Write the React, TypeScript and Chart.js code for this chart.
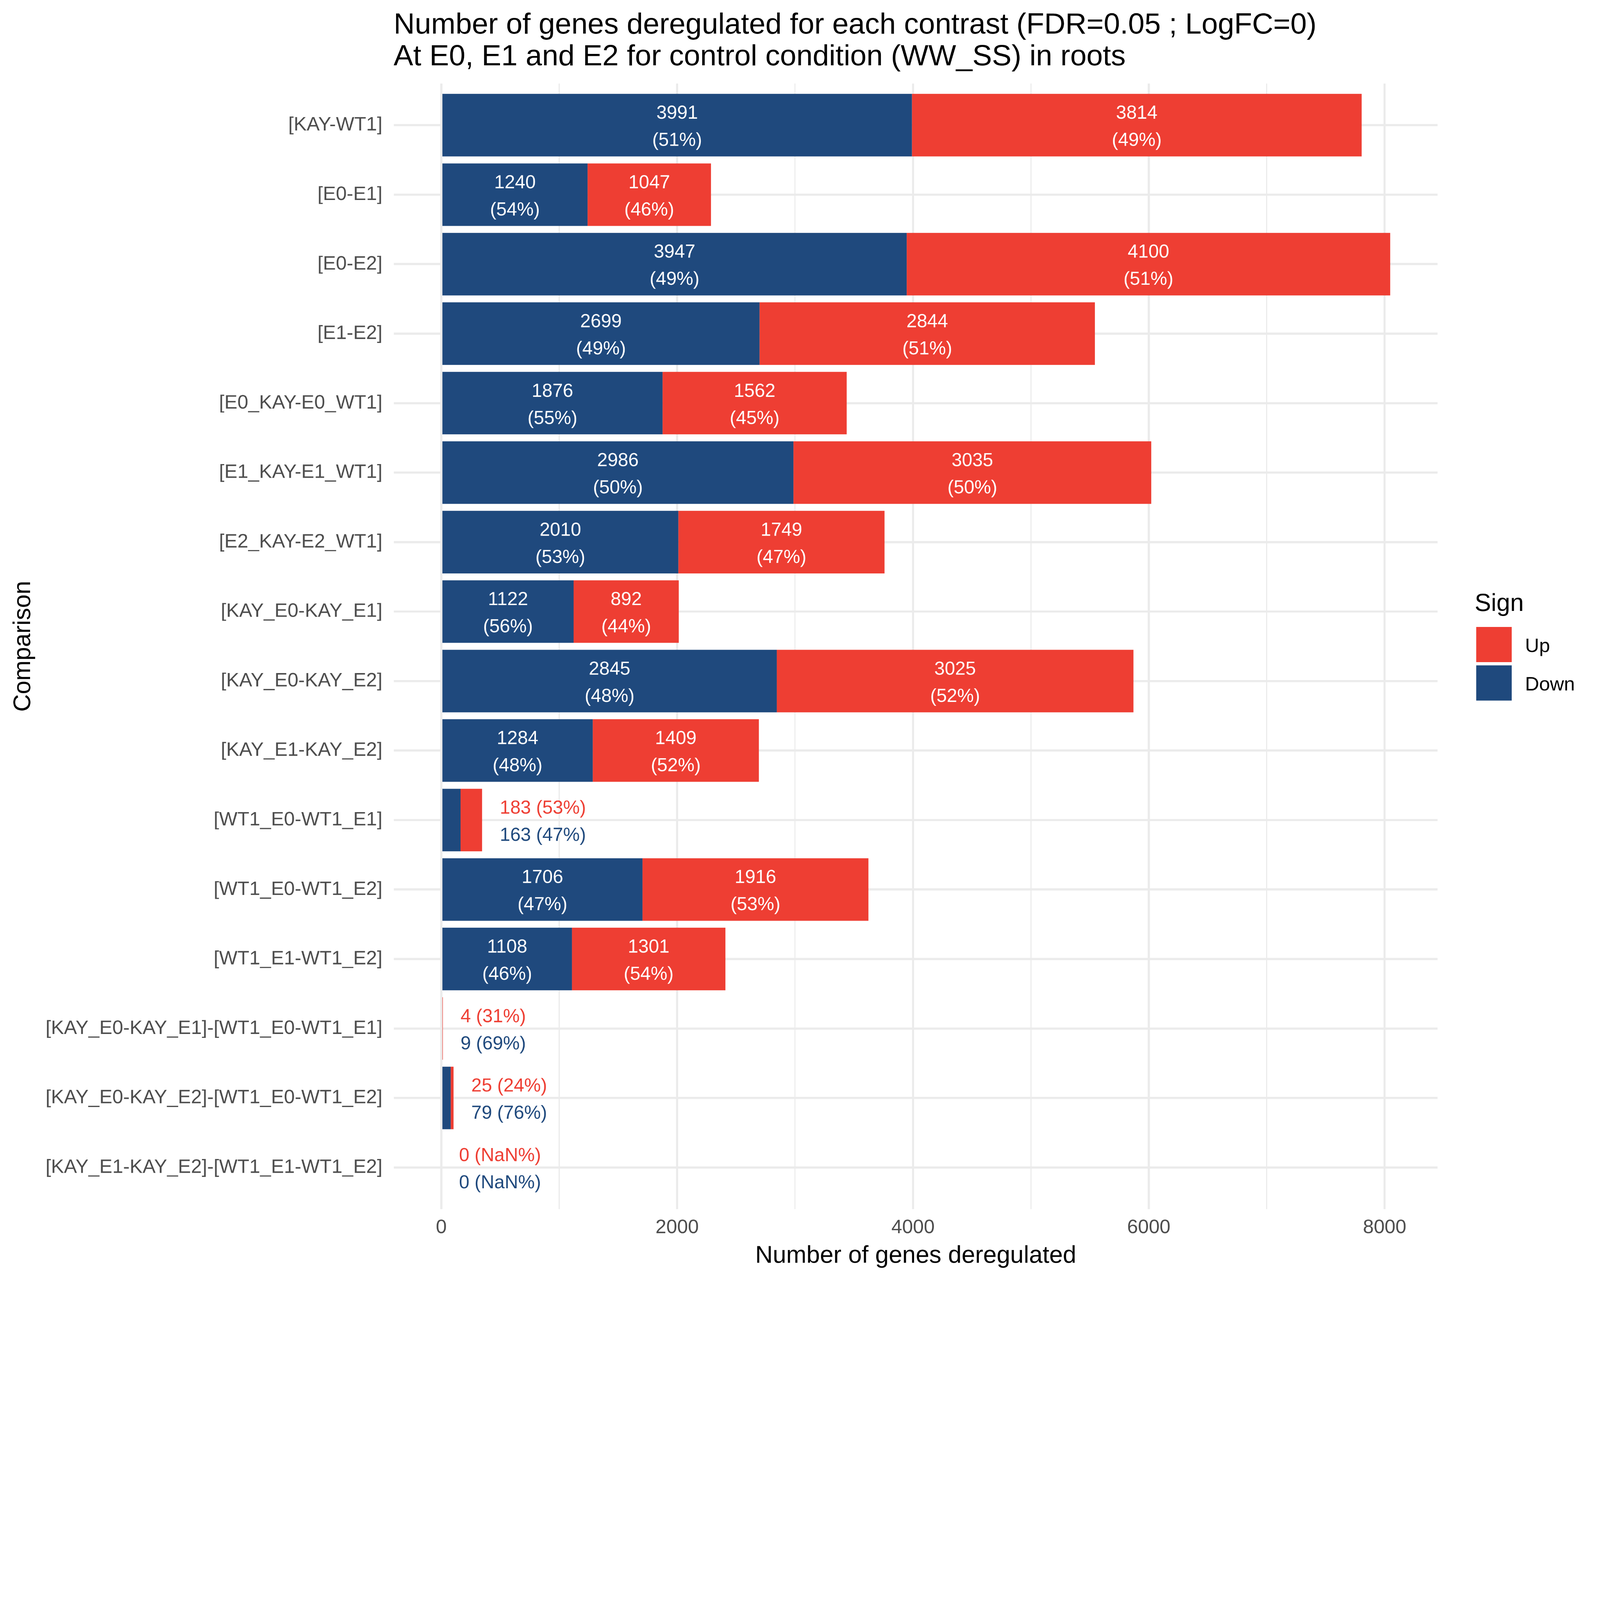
import { useEffect, useRef, useState } from "react";
import { Chart, registerables, type ChartConfiguration, type Plugin } from "chart.js";

Chart.register(...registerables);

const categories = [
  "[KAY-WT1]",
  "[E0-E1]",
  "[E0-E2]",
  "[E1-E2]",
  "[E0_KAY-E0_WT1]",
  "[E1_KAY-E1_WT1]",
  "[E2_KAY-E2_WT1]",
  "[KAY_E0-KAY_E1]",
  "[KAY_E0-KAY_E2]",
  "[KAY_E1-KAY_E2]",
  "[WT1_E0-WT1_E1]",
  "[WT1_E0-WT1_E2]",
  "[WT1_E1-WT1_E2]",
  "[KAY_E0-KAY_E1]-[WT1_E0-WT1_E1]",
  "[KAY_E0-KAY_E2]-[WT1_E0-WT1_E2]",
  "[KAY_E1-KAY_E2]-[WT1_E1-WT1_E2]",
];
const downCounts = [3991, 1240, 3947, 2699, 1876, 2986, 2010, 1122, 2845, 1284, 163, 1706, 1108, 9, 79, 0];
const upCounts = [3814, 1047, 4100, 2844, 1562, 3035, 1749, 892, 3025, 1409, 183, 1916, 1301, 4, 25, 0];
const xMajorTicks = [0, 2000, 4000, 6000, 8000];
const xMinorTicks = [1000, 3000, 5000, 7000];

const TITLE = [
  "Number of genes deregulated for each contrast (FDR=0.05 ; LogFC=0)",
  "At E0, E1 and E2 for control condition (WW_SS) in roots",
];
const X_TITLE = "Number of genes deregulated";
const Y_TITLE = "Comparison";
const LEGEND_TITLE = "Sign";

const BLUE = "#1F497D";
const RED = "#EE3E33";
const GRID = "#EBEBEB";
const FONT = "'Liberation Sans', Arial, Helvetica, sans-serif";

// drawing size of the chart; the canvas is scaled down by CSS to fit the window
const W = 6000;
const H = 4800;

const totals = downCounts.map((d, i) => d + upCounts[i]);
const maxTotal = Math.max(...totals);

function pct(v: number, total: number) {
  return total === 0 ? "NaN%" : `${Math.round((v / total) * 100)}%`;
}

const labelsPlugin: Plugin<"bar"> = {
  id: "barLabels",
  afterDatasetsDraw(chart) {
    const ctx = chart.ctx;
    const xScale = chart.scales.x;
    const downMeta = chart.getDatasetMeta(0);
    const upMeta = chart.getDatasetMeta(1);
    ctx.save();
    ctx.font = `70px ${FONT}`;
    ctx.textBaseline = "alphabetic";
    categories.forEach((_, i) => {
      const total = totals[i];
      const down = downMeta.data[i] as any;
      const up = upMeta.data[i] as any;
      const cy = down.y;
      if (total >= 500) {
        ctx.fillStyle = "#FFFFFF";
        ctx.textAlign = "center";
        for (const [el, v] of [
          [down, downCounts[i]],
          [up, upCounts[i]],
        ] as const) {
          const cx = (el.x + el.base) / 2;
          ctx.fillText(String(v), cx, cy - 24);
          ctx.fillText(`(${pct(v, total)})`, cx, cy + 78);
        }
      } else {
        // small bars: labels go to the right of the bar
        const x = xScale.getPixelForValue(total + 150);
        ctx.textAlign = "left";
        ctx.fillStyle = RED;
        ctx.fillText(`${upCounts[i]} (${pct(upCounts[i], total)})`, x, cy - 24);
        ctx.fillStyle = BLUE;
        ctx.fillText(`${downCounts[i]} (${pct(downCounts[i], total)})`, x, cy + 78);
      }
    });
    ctx.restore();
  },
};

const decorPlugin: Plugin<"bar"> = {
  id: "decor",
  afterDraw(chart) {
    const ctx = chart.ctx;
    const area = chart.chartArea;
    ctx.save();
    ctx.fillStyle = "#000000";
    ctx.textBaseline = "alphabetic";

    // title
    ctx.font = `110px ${FONT}`;
    ctx.textAlign = "left";
    ctx.fillText(TITLE[0], area.left - 1, 126);
    ctx.fillText(TITLE[1], area.left - 1, 245);

    // axis titles
    ctx.font = `91px ${FONT}`;
    ctx.textAlign = "center";
    ctx.fillText(X_TITLE, (area.left + area.right) / 2, 4735);
    ctx.save();
    ctx.translate(113, (area.top + area.bottom) / 2);
    ctx.rotate(-Math.PI / 2);
    ctx.fillText(Y_TITLE, 0, 0);
    ctx.restore();

    // legend
    ctx.textAlign = "left";
    ctx.font = `92px ${FONT}`;
    ctx.fillText(LEGEND_TITLE, 5530, 2291);
    const keys = [
      { label: "Up", color: RED, top: 2351 },
      { label: "Down", color: BLUE, top: 2495 },
    ];
    ctx.font = `73px ${FONT}`;
    for (const k of keys) {
      ctx.fillStyle = k.color;
      ctx.fillRect(5536, k.top, 133, 132);
      ctx.fillStyle = "#000000";
      ctx.fillText(k.label, 5719, k.top + 94);
    }
    ctx.restore();
  },
};

function GenesChart({ cssWidth }: { cssWidth: number }) {
  const canvasRef = useRef<HTMLCanvasElement | null>(null);
  const chartRef = useRef<Chart<"bar"> | null>(null);

  useEffect(() => {
    const canvas = canvasRef.current;
    if (!canvas) {
      return;
    }
    chartRef.current?.destroy();
    Chart.defaults.font.family = FONT;

    const config: ChartConfiguration<"bar"> = {
      type: "bar",
      data: {
        datasets: [
          {
            label: "Down",
            data: downCounts.map((v, i) => ({ x: v, y: i })) as any,
            backgroundColor: BLUE,
            barPercentage: 0.9,
            categoryPercentage: 1,
          },
          {
            label: "Up",
            data: upCounts.map((v, i) => ({ x: v, y: i })) as any,
            backgroundColor: RED,
            barPercentage: 0.9,
            categoryPercentage: 1,
          },
        ],
      },
      options: {
        indexAxis: "y",
        responsive: false,
        animation: false,
        devicePixelRatio: 1,
        layout: {
          padding: { left: 0, right: 609, top: 313, bottom: 0 },
        },
        plugins: {
          legend: { display: false },
          tooltip: { enabled: false },
        },
        scales: {
          x: {
            type: "linear",
            stacked: true,
            offset: false,
            min: -0.05 * maxTotal,
            max: 1.05 * maxTotal,
            afterBuildTicks(scale) {
              scale.ticks = [...xMajorTicks, ...xMinorTicks]
                .sort((a, b) => a - b)
                .map((value) => ({ value }));
            },
            afterFit(scale) {
              scale.height = 266;
            },
            ticks: {
              autoSkip: false,
              maxRotation: 0,
              minRotation: 0,
              padding: 26,
              color: "#4D4D4D",
              font: { size: 73, family: FONT },
              callback(value) {
                return xMajorTicks.includes(Number(value)) ? String(value) : "";
              },
            },
            grid: {
              color: GRID,
              offset: false,
              drawTicks: false,
              lineWidth: (ctx) => (xMajorTicks.includes(ctx.tick?.value) ? 8 : 4),
            },
            border: { display: false },
          },
          y: {
            type: "linear",
            stacked: true,
            reverse: true,
            offset: false,
            min: -0.6,
            max: categories.length - 1 + 0.6,
            afterBuildTicks(scale) {
              scale.ticks = categories.map((_, i) => ({ value: i }));
            },
            afterFit(scale) {
              scale.width = 1477;
            },
            ticks: {
              autoSkip: false,
              padding: 43,
              color: "#4D4D4D",
              font: { size: 73, family: FONT },
              callback(value) {
                return categories[Number(value)] ?? "";
              },
            },
            grid: {
              color: GRID,
              offset: false,
              lineWidth: 8,
              drawTicks: false,
            },
            border: { display: false },
          },
        },
      },
      plugins: [labelsPlugin, decorPlugin],
    };

    chartRef.current = new Chart(canvas, config);

    return () => {
      chartRef.current?.destroy();
      chartRef.current = null;
    };
  }, []);

  return (
    <canvas
      ref={canvasRef}
      width={W}
      height={H}
      style={{ display: "block", width: cssWidth, height: (cssWidth * H) / W }}
    />
  );
}

export default function App() {
  const [cssWidth] = useState(() =>
    Math.min(W, window.innerWidth, (window.innerHeight * W) / H),
  );
  useEffect(() => {
    document.body.style.margin = "0";
  }, []);
  return (
    <div style={{ background: "#FFFFFF" }}>
      <GenesChart cssWidth={cssWidth} />
    </div>
  );
}
